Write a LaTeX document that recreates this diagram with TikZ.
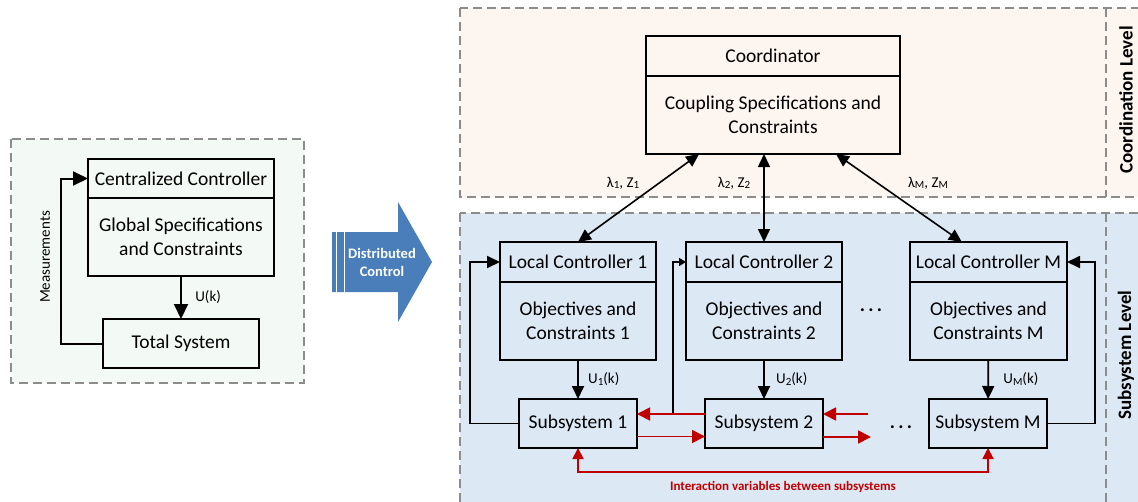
\documentclass[tikz,border=0pt]{standalone}
\usepackage{fontspec}
\setmainfont{Carlito}
\usetikzlibrary{positioning,arrows.meta,calc}

\definecolor{panelgreen}{HTML}{F3FAF6}
\definecolor{panelpeach}{HTML}{FDF5F0}
\definecolor{panelblue}{HTML}{DCE9F5}
\definecolor{dashgray}{HTML}{8C8C8C}
\definecolor{linkred}{HTML}{C00000}
\definecolor{arrowblue}{HTML}{4A7EBB}

\newcommand{\idx}[1]{\raisebox{-0.25ex}{\fontsize{11}{11}\selectfont #1}}
\newcommand{\boxfont}{\fontsize{19.5}{23.5}\selectfont}
\newcommand{\labfont}{\fontsize{15}{18}\selectfont}

\tikzset{
  panel/.style={draw=dashgray, dash pattern=on 9pt off 5pt, line width=1.4pt},
  blk/.style={draw, line width=1.8pt, inner sep=0pt, outer sep=0pt, align=center, font=\boxfont},
  arr/.style={-{Triangle[length=13pt,width=12pt]}, line width=1.8pt},
  arrbig/.style={-{Triangle[length=15pt,width=14pt]}, line width=2pt},
  arrdbl/.style={{Triangle[length=13pt,width=12pt]}-{Triangle[length=13pt,width=12pt]}, line width=1.6pt},
  arrsmall/.style={-{Triangle[length=7pt,width=8pt]}, line width=1.6pt},
  redarr/.style={-{Triangle[length=13pt,width=13pt]}, line width=1.8pt, draw=linkred},
}

\begin{document}
\begin{tikzpicture}[x=1pt,y=-1pt]
      \useasboundingbox (0,0) rectangle (1138,501);

      \draw[panel, fill=panelgreen] (11,139) rectangle (304,383);
      \draw[panel, fill=panelpeach] (460,8) rectangle (1150,197);
      \draw[panel] (1106,8) -- (1106,197);
      \draw[panel, fill=panelblue] (460,213) rectangle (1150,520);
      \draw[panel] (1106,213) -- (1106,520);

      \node[blk, minimum width=186pt, minimum height=39pt] (cc) at (181,178.5) {Centralized Controller};
      \node[blk, minimum width=186pt, minimum height=78pt, below=0pt of cc] (ccb) {Global Specifications\\and Constraints};
      \node[blk, minimum width=156pt, minimum height=49pt] (ts) at (181,343.5) {Total System};
      \node[rotate=90, font=\labfont] (meas) at (45,257) {Measurements};

      \draw[arrbig] (ccb) -- node[right=10pt, font=\labfont] {U(k)} (ts);
      \draw[arrbig] (ts.west) -- ++(-42,0) |- (cc.west);

      \fill[arrowblue] (332,232) -- (398,232) -- (398,202) -- (432,262) -- (398,322) -- (398,292) -- (332,292) -- cycle;
      \draw[white, line width=0.8pt] (336.5,232) -- (336.5,292) (344,232) -- (344,292);
      \node[font=\bfseries\fontsize{14.5}{18}\selectfont, text=white, align=center] (dist) at (382,262) {Distributed\\Control};

      \node[blk, minimum width=254pt, minimum height=40pt] (co) at (773,56) {Coordinator};
      \node[blk, minimum width=254pt, minimum height=78pt, below=0pt of co] (cob) {Coupling Specifications and\\Constraints};

      \node[blk, minimum width=156pt, minimum height=40pt] (lc1) at (578,262) {Local Controller 1};
      \node[blk, minimum width=156pt, minimum height=78pt, below=0pt of lc1] (lc1b) {Objectives and\\Constraints 1};
      \node[blk, minimum width=156pt, minimum height=40pt] (lc2) at (764,262) {Local Controller 2};
      \node[blk, minimum width=156pt, minimum height=78pt, below=0pt of lc2] (lc2b) {Objectives and\\Constraints 2};
      \node[blk, minimum width=157pt, minimum height=40pt] (lcM) at (988.5,262) {Local Controller M};
      \node[blk, minimum width=157pt, minimum height=78pt, below=0pt of lcM] (lcMb) {Objectives and\\Constraints M};
      \node[font=\boxfont\bfseries] (dotsc) at (871,310) {.\,.\,.};

      \node[blk, minimum width=118pt, minimum height=49pt] (s1) at (578,423.5) {Subsystem 1};
      \node[blk, minimum width=118pt, minimum height=49pt] (s2) at (764,423.5) {Subsystem 2};
      \node[blk, minimum width=118pt, minimum height=49pt] (sM) at (988,423.5) {Subsystem M};
      \node[font=\boxfont\bfseries] (dotss) at (901,427) {.\,.\,.};

      \draw[arrdbl] (lc1.north) -- ($(cob.south west)!0.209!(cob.south east)$);
      \draw[arrdbl] (lc2.north) -- (lc2.north |- cob.south);
      \draw[arrdbl] ($(lcM.north west)!0.33!(lcM.north east)$) -- ($(cob.south west)!0.748!(cob.south east)$);
      \node[font=\labfont] (lam1) at (623,183) {λ\idx{1}, Z\idx{1}};
      \node[font=\labfont] (lam2) at (734,183) {λ\idx{2}, Z\idx{2}};
      \node[font=\labfont] (lamM) at (928,183) {λ\idx{M}, Z\idx{M}};

      \draw[arr] (lc1b) -- node[right=6pt, font=\labfont] {U\idx{1}(k)} (s1);
      \draw[arr] (lc2b) -- node[right=8pt, font=\labfont] {U\idx{2}(k)} (s2);
      \draw[arr] (lcMb) -- node[right=11pt, font=\labfont] {U\idx{M}(k)} (sM);

      \draw[arr] (s1.west) -- ++(-49,0) |- (lc1.west);
      \coordinate (tap2) at (673,414);
      \draw[arrsmall] (tap2) |- (lc2.west);
      \draw[arr] (sM.east) -- ++(48,0) |- (lcM.east);

      \coordinate (in2) at (868,414);
      \coordinate (out2) at (871,437);
      \draw[redarr] ([yshift=9.5pt]s2.west) -- ([yshift=9.5pt]s1.east);
      \draw[redarr] ([yshift=-13pt]s1.east) -- ([yshift=-13pt]s2.west);
      \draw[redarr] (in2) -- (in2 -| s2.east);
      \draw[redarr] (out2 -| s2.east) -- (out2);
      \draw[redarr, {Triangle[length=11pt,width=11pt]}-{Triangle[length=11pt,width=11pt]}] (s1.south) -- ++(0,24) -| (sM.south);
      \node[font=\bfseries\fontsize{13}{16}\selectfont, text=linkred] (ivl) at (783,487) {Interaction variables between subsystems};

      \node[rotate=90, font=\bfseries\fontsize{19}{22}\selectfont] (coordlvl) at (1126,100) {Coordination Level};
      \node[rotate=90, font=\bfseries\fontsize{19}{22}\selectfont] (sublvl) at (1126,355) {Subsystem Level};
\end{tikzpicture}
\end{document}
